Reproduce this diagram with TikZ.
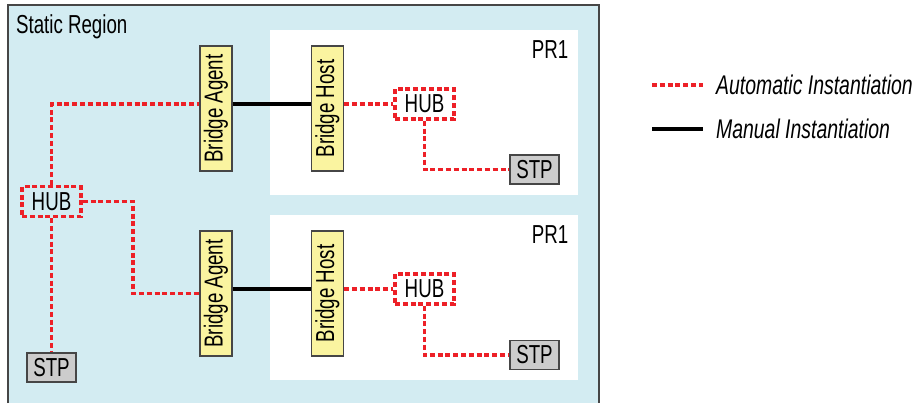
\documentclass[tikz,border=0pt]{standalone}
\usepackage{fontspec}
\setmainfont[FakeStretch=0.72]{Liberation Sans}
\usepackage{tikz}
\definecolor{statbg}{RGB}{211,236,242}
\definecolor{autored}{RGB}{237,32,39}
\definecolor{bridgefill}{RGB}{250,244,160}
\definecolor{stpfill}{RGB}{204,204,204}
\definecolor{edgegray}{RGB}{70,70,70}

\begin{document}
\begin{tikzpicture}[x=0.5pt,y=-0.5pt,
	every node/.style={font=\fontsize{13}{15}\selectfont},
	bridge/.style={draw=edgegray,fill=bridgefill,line width=0.6pt,minimum width=16pt,minimum height=62.5pt,inner sep=0pt},
	hub/.style={draw=autored,dash pattern=on 2.5pt off 1.4pt,line width=1.7pt,minimum width=29.5pt,minimum height=15pt,inner sep=0pt},
	stp/.style={draw=edgegray,fill=stpfill,line width=0.6pt,minimum width=24.5pt,minimum height=14.5pt,inner sep=0pt},
	autolink/.style={draw=autored,dash pattern=on 2.5pt off 1.4pt,line width=1.7pt},
	manuallink/.style={draw=black,line width=1.6pt},
	legend/.style={anchor=west,font=\fontsize{13.5}{15}\selectfont\itshape}]
		\useasboundingbox (0,0) rectangle (920,403);
		%
		\fill[statbg] (8,5) rectangle (599,403);
		\draw[edgegray,line width=0.8pt] (8,403) -- (8,5) -- (599,5) -- (599,403);
		\fill[white] (270,30) rectangle (578,195);
		\fill[white] (270,215) rectangle (578,380);
		\node[anchor=west] (static) at (9,27) {Static Region};
		\node (prA) at (550,50) {PR1};
		\node (prB) at (550,235) {PR1};
		%
		\node[bridge] (agentA) at (216,108.5) {\rotatebox{90}{Bridge Agent}};
		\node[bridge] (hostA) at (327.5,108.5) {\rotatebox{90}{Bridge Host}};
		\node[hub] (hubA) at (424.5,104) {HUB};
		\node[stp] (stpA) at (534.5,169.5) {STP};
		\node[bridge] (agentB) at (216,293.5) {\rotatebox{90}{Bridge Agent}};
		\node[bridge] (hostB) at (327.5,293.5) {\rotatebox{90}{Bridge Host}};
		\node[hub] (hubB) at (424.5,289) {HUB};
		\node[stp] (stpB) at (534.5,355) {STP};
		\node[hub] (hubS) at (51.5,201.5) {HUB};
		\node[stp] (stpS) at (51.5,367.5) {STP};
		\coordinate (rowA) at (0,104);
		\coordinate (bendB) at (133,201.5);
		%
		\draw[autolink] (hubS.north) |- (agentA.west |- rowA);
		\draw[autolink] (hubS.east) -- (bendB) |- (agentB.west);
		\draw[autolink] (hubS.south) -- (stpS.north);
		\draw[autolink] (hostA.east |- hubA) -- (hubA.west);
		\draw[autolink] (hubA.south) |- (stpA.west);
		\draw[autolink] (hostB.east |- hubB) -- (hubB.west);
		\draw[autolink] (hubB.south) |- (stpB.west);
		\draw[manuallink] (agentA.east |- rowA) -- (hostA.west |- rowA);
		\draw[manuallink] (agentB.east |- hubB) -- (hostB.west |- hubB);
		%
		\coordinate (autoL) at (652,85);
		\coordinate (autoR) at (703,85);
		\coordinate (manL) at (652,129);
		\coordinate (manR) at (703,129);
		\draw[autolink] (autoL) -- (autoR);
		\draw[manuallink] (manL) -- (manR);
		\node[legend] (autoTxt) at (709,85) {Automatic Instantiation};
		\node[legend] (manTxt) at (709,129) {Manual Instantiation};
\end{tikzpicture}
\end{document}
